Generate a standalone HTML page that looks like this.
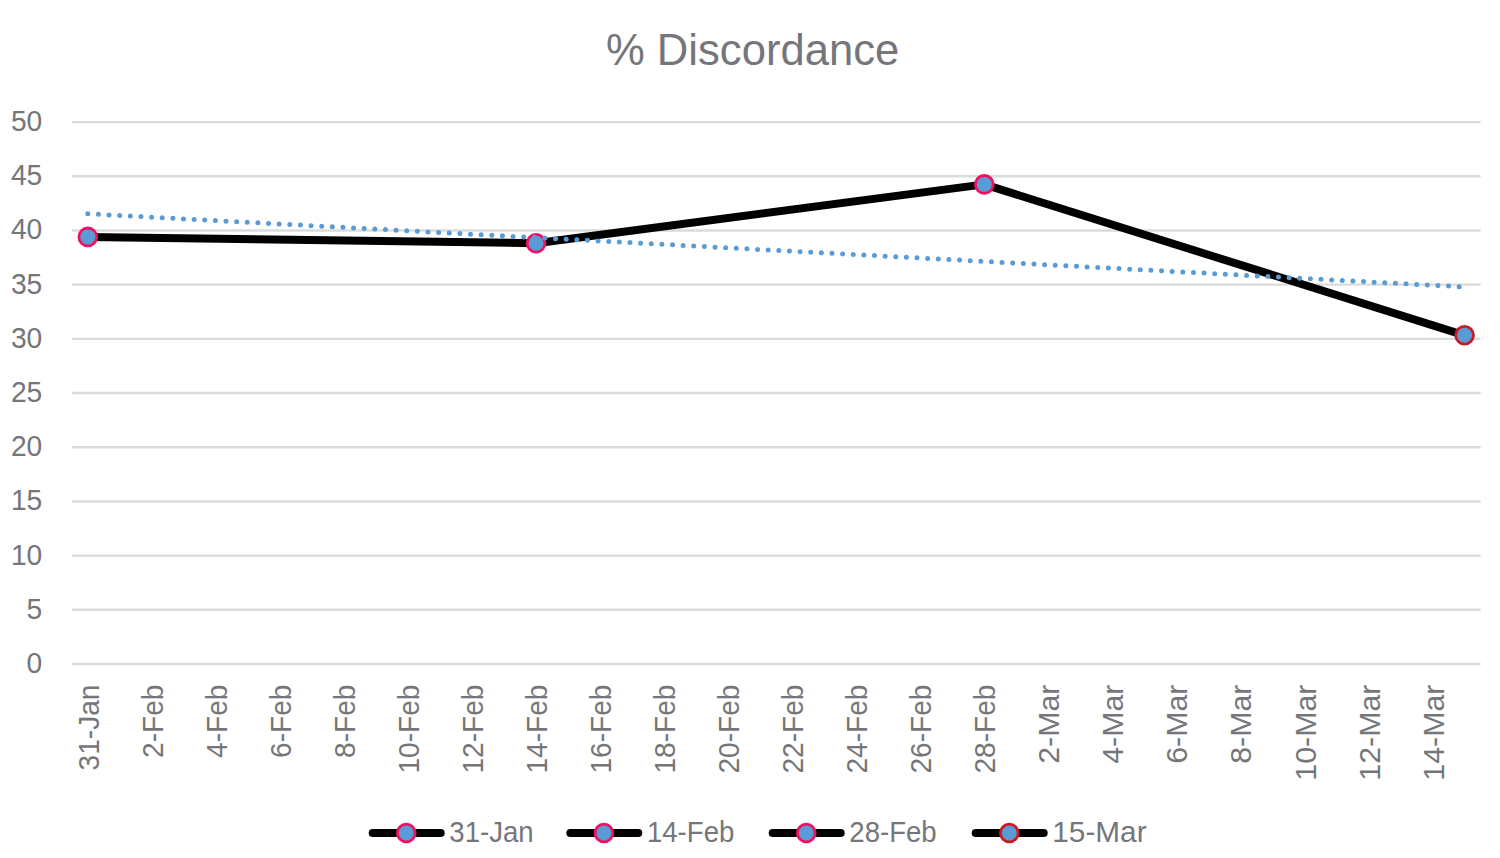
<!DOCTYPE html>
<html><head><meta charset="utf-8"><title>% Discordance</title>
<style>
html,body{margin:0;padding:0;background:#fff;width:1500px;height:858px;overflow:hidden}
svg{display:block;font-family:"Liberation Sans", sans-serif}
</style></head><body>
<svg width="1500" height="858" viewBox="0 0 1500 858">
<rect width="1500" height="858" fill="#fff"/>
<line x1="71.79" y1="664.00" x2="1480.6" y2="664.00" stroke="#dadbdd" stroke-width="2.4"/>
<text transform="translate(42.3,672.90) scale(0.935,1)" text-anchor="end" font-size="30.2" fill="#75767a">0</text>
<line x1="71.79" y1="609.81" x2="1480.6" y2="609.81" stroke="#dadbdd" stroke-width="2.4"/>
<text transform="translate(42.3,618.71) scale(0.935,1)" text-anchor="end" font-size="30.2" fill="#75767a">5</text>
<line x1="71.79" y1="555.62" x2="1480.6" y2="555.62" stroke="#dadbdd" stroke-width="2.4"/>
<text transform="translate(42.3,564.52) scale(0.935,1)" text-anchor="end" font-size="30.2" fill="#75767a">10</text>
<line x1="71.79" y1="501.43" x2="1480.6" y2="501.43" stroke="#dadbdd" stroke-width="2.4"/>
<text transform="translate(42.3,510.33) scale(0.935,1)" text-anchor="end" font-size="30.2" fill="#75767a">15</text>
<line x1="71.79" y1="447.24" x2="1480.6" y2="447.24" stroke="#dadbdd" stroke-width="2.4"/>
<text transform="translate(42.3,456.14) scale(0.935,1)" text-anchor="end" font-size="30.2" fill="#75767a">20</text>
<line x1="71.79" y1="393.05" x2="1480.6" y2="393.05" stroke="#dadbdd" stroke-width="2.4"/>
<text transform="translate(42.3,401.95) scale(0.935,1)" text-anchor="end" font-size="30.2" fill="#75767a">25</text>
<line x1="71.79" y1="338.86" x2="1480.6" y2="338.86" stroke="#dadbdd" stroke-width="2.4"/>
<text transform="translate(42.3,347.76) scale(0.935,1)" text-anchor="end" font-size="30.2" fill="#75767a">30</text>
<line x1="71.79" y1="284.67" x2="1480.6" y2="284.67" stroke="#dadbdd" stroke-width="2.4"/>
<text transform="translate(42.3,293.57) scale(0.935,1)" text-anchor="end" font-size="30.2" fill="#75767a">35</text>
<line x1="71.79" y1="230.48" x2="1480.6" y2="230.48" stroke="#dadbdd" stroke-width="2.4"/>
<text transform="translate(42.3,239.38) scale(0.935,1)" text-anchor="end" font-size="30.2" fill="#75767a">40</text>
<line x1="71.79" y1="176.29" x2="1480.6" y2="176.29" stroke="#dadbdd" stroke-width="2.4"/>
<text transform="translate(42.3,185.19) scale(0.935,1)" text-anchor="end" font-size="30.2" fill="#75767a">45</text>
<line x1="71.79" y1="122.10" x2="1480.6" y2="122.10" stroke="#dadbdd" stroke-width="2.4"/>
<text transform="translate(42.3,131.00) scale(0.935,1)" text-anchor="end" font-size="30.2" fill="#75767a">50</text>
<text transform="translate(98.80,684.6) rotate(-90) scale(0.9358,1)" text-anchor="end" font-size="30" fill="#75767a">31-Jan</text>
<text transform="translate(162.84,684.6) rotate(-90) scale(0.9358,1)" text-anchor="end" font-size="30" fill="#75767a">2-Feb</text>
<text transform="translate(226.87,684.6) rotate(-90) scale(0.9358,1)" text-anchor="end" font-size="30" fill="#75767a">4-Feb</text>
<text transform="translate(290.91,684.6) rotate(-90) scale(0.9358,1)" text-anchor="end" font-size="30" fill="#75767a">6-Feb</text>
<text transform="translate(354.95,684.6) rotate(-90) scale(0.9358,1)" text-anchor="end" font-size="30" fill="#75767a">8-Feb</text>
<text transform="translate(418.98,684.6) rotate(-90) scale(0.9358,1)" text-anchor="end" font-size="30" fill="#75767a">10-Feb</text>
<text transform="translate(483.02,684.6) rotate(-90) scale(0.9358,1)" text-anchor="end" font-size="30" fill="#75767a">12-Feb</text>
<text transform="translate(547.06,684.6) rotate(-90) scale(0.9358,1)" text-anchor="end" font-size="30" fill="#75767a">14-Feb</text>
<text transform="translate(611.09,684.6) rotate(-90) scale(0.9358,1)" text-anchor="end" font-size="30" fill="#75767a">16-Feb</text>
<text transform="translate(675.13,684.6) rotate(-90) scale(0.9358,1)" text-anchor="end" font-size="30" fill="#75767a">18-Feb</text>
<text transform="translate(739.17,684.6) rotate(-90) scale(0.9358,1)" text-anchor="end" font-size="30" fill="#75767a">20-Feb</text>
<text transform="translate(803.20,684.6) rotate(-90) scale(0.9358,1)" text-anchor="end" font-size="30" fill="#75767a">22-Feb</text>
<text transform="translate(867.24,684.6) rotate(-90) scale(0.9358,1)" text-anchor="end" font-size="30" fill="#75767a">24-Feb</text>
<text transform="translate(931.28,684.6) rotate(-90) scale(0.9358,1)" text-anchor="end" font-size="30" fill="#75767a">26-Feb</text>
<text transform="translate(995.31,684.6) rotate(-90) scale(0.9358,1)" text-anchor="end" font-size="30" fill="#75767a">28-Feb</text>
<text transform="translate(1059.35,684.6) rotate(-90) scale(1.0116,1)" text-anchor="end" font-size="30" fill="#75767a">2-Mar</text>
<text transform="translate(1123.39,684.6) rotate(-90) scale(1.0116,1)" text-anchor="end" font-size="30" fill="#75767a">4-Mar</text>
<text transform="translate(1187.43,684.6) rotate(-90) scale(1.0116,1)" text-anchor="end" font-size="30" fill="#75767a">6-Mar</text>
<text transform="translate(1251.46,684.6) rotate(-90) scale(1.0116,1)" text-anchor="end" font-size="30" fill="#75767a">8-Mar</text>
<text transform="translate(1315.50,684.6) rotate(-90) scale(1.0116,1)" text-anchor="end" font-size="30" fill="#75767a">10-Mar</text>
<text transform="translate(1379.54,684.6) rotate(-90) scale(1.0116,1)" text-anchor="end" font-size="30" fill="#75767a">12-Mar</text>
<text transform="translate(1443.57,684.6) rotate(-90) scale(1.0116,1)" text-anchor="end" font-size="30" fill="#75767a">14-Mar</text>
<polyline points="87.80,236.91 536.06,243.20 984.31,184.40 1464.59,335.31" fill="none" stroke="#000" stroke-width="8" stroke-linejoin="round"/>
<circle cx="87.80" cy="236.91" r="8.9" fill="#5b9bd5" stroke="#ee1262" stroke-width="2.8"/>
<circle cx="536.06" cy="243.20" r="8.9" fill="#5b9bd5" stroke="#ee1262" stroke-width="2.8"/>
<circle cx="984.31" cy="184.40" r="8.9" fill="#5b9bd5" stroke="#ee1262" stroke-width="2.8"/>
<circle cx="1464.59" cy="335.31" r="8.9" fill="#5b9bd5" stroke="#cc1a22" stroke-width="2.8"/>
<line x1="87.80" y1="213.80" x2="1464.59" y2="286.96" stroke="#5b9bd5" stroke-width="5" stroke-linecap="round" stroke-dasharray="0 10.646"/>
<text transform="translate(752.6,64.7) scale(0.976,1)" text-anchor="middle" font-size="44.7" fill="#75767a">% Discordance</text>
<line x1="372.70" y1="833" x2="440.70" y2="833" stroke="#000" stroke-width="8" stroke-linecap="round"/>
<circle cx="406.30" cy="833" r="8.9" fill="#5b9bd5" stroke="#ee1262" stroke-width="2.8"/>
<text transform="translate(449.30,841.50) scale(0.9200,1)" font-size="30" fill="#75767a">31-Jan</text>
<line x1="570.30" y1="833" x2="638.30" y2="833" stroke="#000" stroke-width="8" stroke-linecap="round"/>
<circle cx="603.90" cy="833" r="8.9" fill="#5b9bd5" stroke="#ee1262" stroke-width="2.8"/>
<text transform="translate(646.90,841.50) scale(0.9200,1)" font-size="30" fill="#75767a">14-Feb</text>
<line x1="772.70" y1="833" x2="840.70" y2="833" stroke="#000" stroke-width="8" stroke-linecap="round"/>
<circle cx="806.30" cy="833" r="8.9" fill="#5b9bd5" stroke="#ee1262" stroke-width="2.8"/>
<text transform="translate(849.30,841.50) scale(0.9200,1)" font-size="30" fill="#75767a">28-Feb</text>
<line x1="975.70" y1="833" x2="1043.70" y2="833" stroke="#000" stroke-width="8" stroke-linecap="round"/>
<circle cx="1009.30" cy="833" r="8.9" fill="#5b9bd5" stroke="#cc1a22" stroke-width="2.8"/>
<text transform="translate(1052.30,841.50) scale(0.9927,1)" font-size="30" fill="#75767a">15-Mar</text>
</svg>
</body></html>
